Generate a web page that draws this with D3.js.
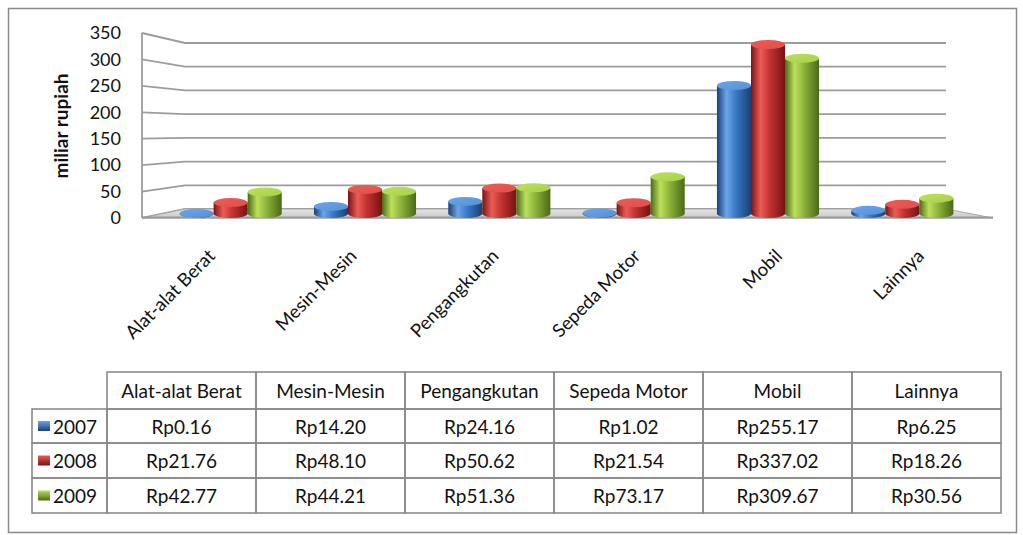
<!DOCTYPE html>
<html>
<head>
<meta charset="utf-8">
<script src="https://cdn.jsdelivr.net/npm/d3@7"></script>
<style>
  html, body { margin: 0; padding: 0; background: #fff; }
  svg { display: block; }
  text { font-family: Lato, "Noto Sans", sans-serif; fill: #111; }
</style>
</head>
<body>
<svg id="chart" width="1023" height="535"></svg>
<script>
// ---- data ----
const categories = ["Alat-alat Berat", "Mesin-Mesin", "Pengangkutan", "Sepeda Motor", "Mobil", "Lainnya"];
const years = ["2007", "2008", "2009"];
const values2007 = [0.16, 14.20, 24.16, 1.02, 255.17, 6.25];
const values2008 = [21.76, 48.10, 50.62, 21.54, 337.02, 18.26];
const values2009 = [42.77, 44.21, 51.36, 73.17, 309.67, 30.56];
const yTicks = [0, 50, 100, 150, 200, 250, 300, 350];
const yTitle = "miliar rupiah";

const seriesValues = [values2007, values2008, values2009];

// ---- styles ----
const palette = {
  "2007": { dark: "#1b3f73", mid: "#3a7ac6", light: "#6aa6e8", top: "#5590d6" },
  "2008": { dark: "#761414", mid: "#c23230", light: "#ec5c57", top: "#e0504b" },
  "2009": { dark: "#4a6a16", mid: "#8db43a", light: "#bde05c", top: "#a8d04a" }
};

const svg = d3.select("#chart");
const defs = svg.append("defs");

years.forEach(y => {
  const c = palette[y];
  const g = defs.append("linearGradient").attr("id", "body" + y)
    .attr("x1", "0%").attr("x2", "100%").attr("y1", "0%").attr("y2", "0%");
  g.append("stop").attr("offset", "0%").attr("stop-color", c.dark);
  g.append("stop").attr("offset", "28%").attr("stop-color", c.light);
  g.append("stop").attr("offset", "55%").attr("stop-color", c.mid);
  g.append("stop").attr("offset", "100%").attr("stop-color", c.dark);
  const t = defs.append("linearGradient").attr("id", "top" + y)
    .attr("x1", "0%").attr("x2", "100%").attr("y1", "0%").attr("y2", "100%");
  t.append("stop").attr("offset", "0%").attr("stop-color", c.light);
  t.append("stop").attr("offset", "100%").attr("stop-color", c.top);
  const k = defs.append("linearGradient").attr("id", "key" + y)
    .attr("x1", "0%").attr("x2", "0%").attr("y1", "0%").attr("y2", "100%");
  k.append("stop").attr("offset", "0%").attr("stop-color", c.light);
  k.append("stop").attr("offset", "100%").attr("stop-color", c.dark);
});
const fg = defs.append("linearGradient").attr("id", "floor")
  .attr("x1", "0%").attr("x2", "0%").attr("y1", "0%").attr("y2", "100%");
fg.append("stop").attr("offset", "0%").attr("stop-color", "#e4e4e4");
fg.append("stop").attr("offset", "100%").attr("stop-color", "#c9c9c9");

// outer frame
svg.append("rect").attr("x", 8.5).attr("y", 8.5).attr("width", 1008).attr("height", 524)
  .attr("fill", "none").attr("stroke", "#8a8a8a").attr("stroke-width", 1.5);

// ---- 3D geometry (front edge, back wall, mid depth) ----
const frontL = 142, frontR = 993, backL = 185, backR = 946;
const yFront = d3.scaleLinear().domain([0, 350]).range([218, 33]);
const yBack = d3.scaleLinear().domain([0, 350]).range([209, 43]);
const yMid = d3.scaleLinear().domain([0, 350]).range([213.5, 38]);

const xFront = d3.scaleBand().domain(categories).range([frontL, frontR]);
const xMid = d3.scaleBand().domain(categories).range([(frontL + backL) / 2, (frontR + backR) / 2])
  .paddingInner(0.24).paddingOuter(0.12);
const xSeries = d3.scaleBand().domain(years).range([0, xMid.bandwidth()]);

// walls: gridlines
const grid = svg.append("g").attr("stroke", "#9c9c9c").attr("stroke-width", 1.8).attr("fill", "none");
yTicks.forEach(v => {
  grid.append("path").attr("d", `M${frontL},${yFront(v)} L${backL},${yBack(v)} L${backR},${yBack(v)}`);
});
// left vertical edge
grid.append("line").attr("x1", frontL).attr("x2", frontL)
  .attr("y1", yFront(350)).attr("y2", yFront(0));

// floor
svg.append("path")
  .attr("d", `M${frontL},${yFront(0)} L${backL},${yBack(0)} L${backR},${yBack(0)} L${frontR},${yFront(0)} Z`)
  .attr("fill", "url(#floor)").attr("stroke", "#a8a8a8").attr("stroke-width", 1);
svg.append("line").attr("x1", frontL).attr("x2", frontR)
  .attr("y1", yFront(0) - 0.5).attr("y2", yFront(0) - 0.5)
  .attr("stroke", "#9a9a9a").attr("stroke-width", 2);

// y axis labels
const yAxis = d3.axisLeft(yFront).tickValues(yTicks).tickSize(0).tickPadding(0);
const ya = svg.append("g").attr("transform", "translate(121,0)").call(yAxis);
ya.select(".domain").remove();
ya.selectAll("text").style("font-family", "Lato, 'Noto Sans', sans-serif")
  .style("font-size", "18px").attr("fill", "#111");

// y title
svg.append("text").attr("transform", "translate(68,126) rotate(-90)")
  .attr("text-anchor", "middle").style("font-size", "19px").style("font-weight", "bold")
  .text(yTitle);

// ---- cylinders ----
const ry = 4.5;
const bars = svg.append("g");
categories.forEach((cat, i) => {
  years.forEach((yr, s) => {
    const v = seriesValues[s][i];
    const x0 = xMid(cat) + xSeries(yr);
    const w = xSeries.bandwidth();
    const rx = w / 2;
    const cx = x0 + rx;
    const yb = yMid(0);
    const yt = yMid(v);
    const g = bars.append("g");
    g.append("path")
      .attr("d", `M${x0},${yt} L${x0},${yb} A${rx},${ry} 0 0 0 ${x0 + w},${yb} L${x0 + w},${yt} Z`)
      .attr("fill", `url(#body${yr})`);
    g.append("ellipse").attr("cx", cx).attr("cy", yt).attr("rx", rx).attr("ry", ry)
      .attr("fill", `url(#top${yr})`);
  });
});

// category labels (rotated)
svg.append("g").selectAll("text").data(categories).join("text")
  .attr("transform", d => `translate(${xFront(d) + xFront.bandwidth() / 2 - 6},${248}) rotate(-45)`)
  .attr("text-anchor", "end").attr("dy", "0.7em")
  .style("font-size", "18.5px")
  .text(d => d);

// ---- data table ----
const tX0 = 107, colW = 149, legX0 = 32;
const rowsY = [372, 409, 443, 478, 513];
const tbl = svg.append("g");
const border = { stroke: "#8a8a8a", "stroke-width": 1.6 };
const fs = "19px";
const colX = d3.scaleBand().domain(categories).range([tX0, tX0 + colW * categories.length]);
// header row
categories.forEach(cat => {
  tbl.append("rect").attr("x", colX(cat)).attr("y", rowsY[0]).attr("width", colX.bandwidth())
    .attr("height", rowsY[1] - rowsY[0]).attr("fill", "none")
    .attr("stroke", border.stroke).attr("stroke-width", border["stroke-width"]);
  tbl.append("text").attr("x", colX(cat) + colX.bandwidth() / 2).attr("y", (rowsY[0] + rowsY[1]) / 2)
    .attr("text-anchor", "middle").attr("dominant-baseline", "central")
    .style("font-size", fs).text(cat);
});
years.forEach((yr, s) => {
  const y0 = rowsY[s + 1], y1 = rowsY[s + 2];
  tbl.append("rect").attr("x", legX0).attr("y", y0).attr("width", tX0 - legX0).attr("height", y1 - y0)
    .attr("fill", "none").attr("stroke", border.stroke).attr("stroke-width", border["stroke-width"]);
  tbl.append("rect").attr("x", 38).attr("y", (y0 + y1) / 2 - 5).attr("width", 12).attr("height", 10)
    .attr("fill", `url(#key${yr})`);
  tbl.append("text").attr("x", 53).attr("y", (y0 + y1) / 2)
    .attr("dominant-baseline", "central").style("font-size", fs).text(yr);
  categories.forEach((cat, i) => {
    tbl.append("rect").attr("x", colX(cat)).attr("y", y0).attr("width", colX.bandwidth()).attr("height", y1 - y0)
      .attr("fill", "none").attr("stroke", border.stroke).attr("stroke-width", border["stroke-width"]);
    tbl.append("text").attr("x", colX(cat) + colX.bandwidth() / 2).attr("y", (y0 + y1) / 2)
      .attr("text-anchor", "middle").attr("dominant-baseline", "central")
      .style("font-size", fs).text("Rp" + d3.format(".2f")(seriesValues[s][i]));
  });
});
</script>
</body>
</html>
